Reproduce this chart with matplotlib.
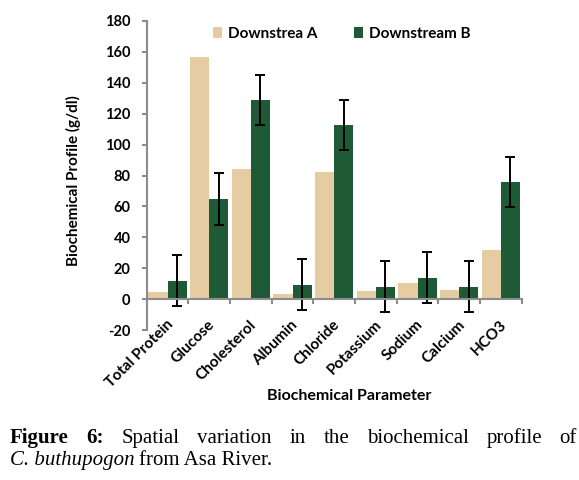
import numpy as np
import matplotlib
matplotlib.use("Agg")
import matplotlib.pyplot as plt

# data
params = ["Total Protein", "Glucose", "Cholesterol", "Albumin", "Chloride",
          "Potassium", "Sodium", "Calcium", "HCO3"]
downstream_a = [4.3, 156.6, 84.3, 3.5, 82.4, 5.4, 10.7, 6.1, 31.7]
downstream_b = [12.0, 64.8, 128.8, 9.3, 112.6, 8.0, 13.9, 8.0, 75.9]
err_b = [16.3, 16.7, 16.3, 16.4, 16.0, 16.4, 16.6, 16.4, 16.3]
yticks = list(range(-20, 181, 20))

caption_line1 = [("Figure", "bold"), ("6:", "bold"), ("Spatial", "normal"),
                 ("variation", "normal"), ("in", "normal"), ("the", "normal"),
                 ("biochemical", "normal"), ("profile", "normal"), ("of", "normal")]

font = ["Lato", "DejaVu Sans"]
serif = ["Liberation Serif", "DejaVu Serif"]
grey = "#8c8c8c"
W, H = 579, 480

fig = plt.figure(figsize=(W / 100, H / 100), dpi=100)
ax = fig.add_axes([146.7 / W, 1 - 330 / H, (521.7 - 146.7) / W, (330 - 21) / H])

x = np.arange(len(params))
w = 0.46
ax.bar(x - w / 2, downstream_a, w, color="#e6cca2", label="Downstrea A")
ax.bar(x + w / 2, downstream_b, w, color="#1f5a36", label="Downstream B")
ax.errorbar(x + w / 2, downstream_b, yerr=err_b, fmt="none", ecolor="black",
            elinewidth=1.4, capsize=3.6, capthick=1.4)

ax.set_xlim(-0.5, 8.5)
ax.set_ylim(-20, 180)
ax.set_yticks(yticks)
ax.set_yticklabels([str(v) for v in yticks], fontfamily=font, fontweight="bold", fontsize=10.5)
ax.tick_params(axis="y", length=3.6, width=1.5, color=grey, pad=8)
ax.set_xticks(np.arange(-0.5, 9, 1))
ax.set_xticklabels([])
ax.tick_params(axis="x", length=3.6, width=1.5, color=grey, direction="out")

for s in ["top", "right"]:
    ax.spines[s].set_visible(False)
ax.spines["bottom"].set_position(("data", 0))
for s in ["left", "bottom"]:
    ax.spines[s].set_color(grey)
    ax.spines[s].set_linewidth(1.5)

# rotated category names
for i, name in enumerate(params):
    ax.text(i - 0.04, -12, name, rotation=45, ha="right", va="top",
            rotation_mode="anchor", fontfamily=font, fontweight="bold",
            fontsize=11, clip_on=False)

fig.text(349 / W, 1 - 396 / H, "Biochemical Parameter", ha="center", va="center",
         fontfamily=font, fontweight="bold", fontsize=11.5)
fig.text(73 / W, 1 - 181 / H, "Biochemical Profile (g/dl)", ha="center", va="center",
         rotation=90, fontfamily=font, fontweight="bold", fontsize=11)

fig.legend(loc="center left", bbox_to_anchor=(205 / W, 1 - 34 / H), ncol=2,
           frameon=False, borderpad=0, handlelength=0.6, handleheight=0.7,
           handletextpad=0.4, columnspacing=2.4,
           prop=dict(family=font, weight="bold", size=11))

# caption, justified first line
fs = 15
r = fig.canvas.get_renderer()
texts = []
for word, weight in caption_line1:
    t = fig.text(0, 1 - 443 / H, word, fontfamily=serif, fontweight=weight,
                 fontsize=fs, va="baseline")
    texts.append(t)
widths = [t.get_window_extent(r).width for t in texts]
left, right = 10, 577
gap = (right - left - sum(widths)) / (len(texts) - 1)
pos = left
for t, wd in zip(texts, widths):
    t.set_x(pos / W)
    pos += wd + gap

t1 = fig.text(10 / W, 1 - 465 / H, "C. buthupogon", fontfamily=serif,
              fontstyle="italic", fontsize=fs, va="baseline")
w1 = t1.get_window_extent(r).width
fig.text((10 + w1 + 4) / W, 1 - 465 / H, "from Asa River.", fontfamily=serif,
         fontsize=fs, va="baseline")

fig.savefig("out.png", dpi=100)
